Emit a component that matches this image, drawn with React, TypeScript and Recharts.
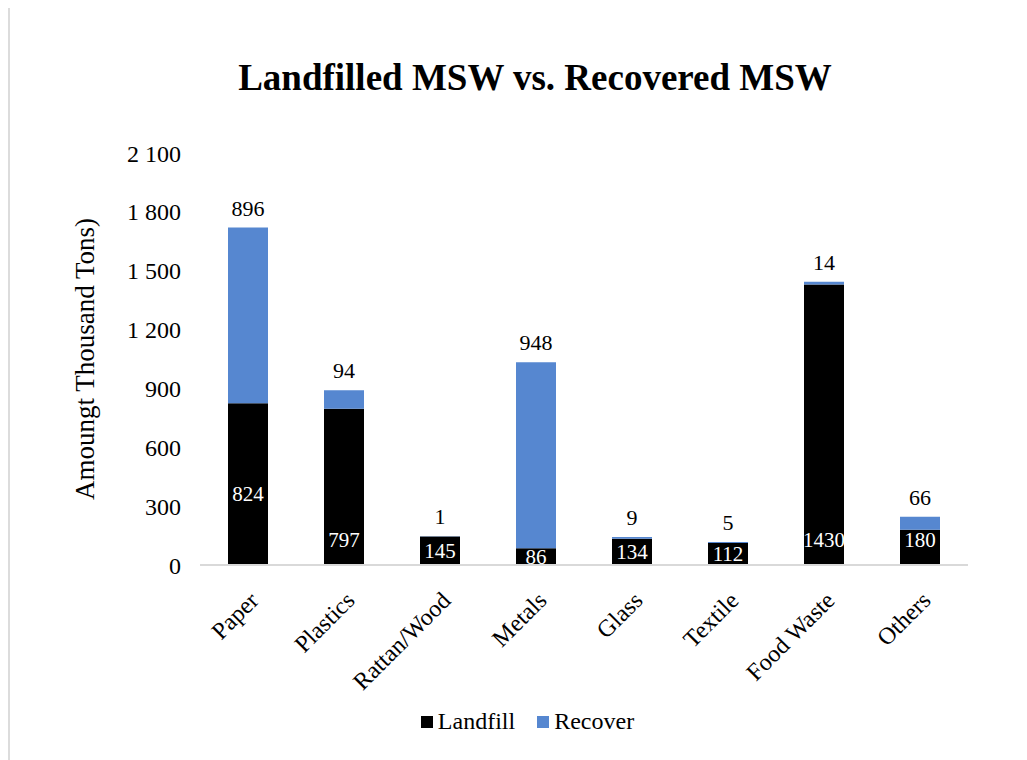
import React from "react";
import { Bar, BarChart, LabelList, Legend, XAxis, YAxis } from "recharts";

const categories = [
  "Paper",
  "Plastics",
  "Rattan/Wood",
  "Metals",
  "Glass",
  "Textile",
  "Food Waste",
  "Others",
];
const landfill = [824, 797, 145, 86, 134, 112, 1430, 180];
const recover = [896, 94, 1, 948, 9, 5, 14, 66];
const yTicks = [0, 300, 600, 900, 1200, 1500, 1800, 2100];

const data = categories.map((name, i) => ({
  name,
  landfill: landfill[i],
  recover: recover[i],
}));

const FONT = "Liberation Serif, serif";
const BLUE = "#5687d0";

// thousands separated by a space, e.g. "1 800"
const fmt = (v: number) => String(v).replace(/\B(?=(\d{3})+(?!\d))/g, " ");

const XTick = ({ x, y, payload }: any) => (
  <g transform={`translate(${x + 12},${y + 29})`}>
    <text
      transform="rotate(-45)"
      textAnchor="end"
      fontSize={24}
      fontFamily={FONT}
      fill="#000"
    >
      {payload.value}
    </text>
  </g>
);

// landfill value inside the black segment: near the base for tall bars,
// mid-bar for short ones and for Paper
const LandfillLabel = (props: any) => {
  const { x, y, width, height, value, index } = props;
  const bottom = y + height;
  let cy = height > 30 ? bottom - 25 : y + height / 2;
  if (categories[index] === "Paper") cy = y + height / 2 + 10;
  return (
    <text
      x={x + width / 2}
      y={cy + 7}
      textAnchor="middle"
      fontSize={21}
      fontFamily={FONT}
      fill="#fff"
    >
      {value}
    </text>
  );
};

const series = [
  { name: "Landfill", color: "#000" },
  { name: "Recover", color: BLUE },
];

const LegendContent = () => (
  <div
    style={{
      display: "flex",
      justifyContent: "center",
      alignItems: "center",
      gap: 22,
      fontFamily: FONT,
      fontSize: 24,
      color: "#000",
    }}
  >
    {series.map((s) => (
      <div key={s.name} style={{ display: "flex", alignItems: "center" }}>
        <span
          style={{
            display: "inline-block",
            width: 12,
            height: 12,
            background: s.color,
            marginRight: 5,
          }}
        />
        <span>{s.name}</span>
      </div>
    ))}
  </div>
);

export default function App() {
  return (
    <div
      style={{
        position: "relative",
        marginTop: -2,
        width: 1017,
        height: 752,
        borderLeft: "2px solid #dcdcdc",
        borderTop: "2px solid #dcdcdc",
        fontFamily: FONT,
      }}
    >
      <div
        style={{
          position: "absolute",
          left: 0,
          top: 48,
          width: 1050,
          textAlign: "center",
          fontSize: 37,
          fontWeight: "bold",
          color: "#000",
        }}
      >
        Landfilled MSW vs. Recovered MSW
      </div>
      <BarChart
        width={1017}
        height={752}
        data={data}
        margin={{ top: 145, right: 59, bottom: 0, left: 0 }}
        barSize={40}
        style={{ fontFamily: FONT }}
      >
        <XAxis
          dataKey="name"
          tick={<XTick />}
          tickLine={false}
          axisLine={{ stroke: "#d9d9d9", strokeWidth: 2 }}
          interval={0}
          height={168}
        />
        <YAxis
          width={190}
          domain={[0, 2100]}
          ticks={yTicks}
          tickFormatter={fmt}
          axisLine={false}
          tickLine={false}
          tickSize={0}
          tickMargin={19}
          tick={{ fontSize: 24, fontFamily: FONT, fill: "#000" }}
          label={{
            value: "Amoungt Thousand Tons)",
            angle: -90,
            position: "insideLeft",
            offset: 74,
            style: {
              textAnchor: "middle",
              fontSize: 27,
              fontFamily: FONT,
              fill: "#000",
            },
          }}
        />
        <Legend
          content={<LegendContent />}
          wrapperStyle={{ left: 0, width: 1035, top: 700 }}
        />
        <Bar
          dataKey="landfill"
          name="Landfill"
          stackId="a"
          fill="#000"
          isAnimationActive={false}
        >
          <LabelList dataKey="landfill" content={<LandfillLabel />} />
        </Bar>
        <Bar
          dataKey="recover"
          name="Recover"
          stackId="a"
          fill={BLUE}
          isAnimationActive={false}
        >
          <LabelList
            dataKey="recover"
            position="top"
            offset={12}
            style={{ fontSize: 22, fontFamily: FONT, fill: "#000" }}
          />
        </Bar>
      </BarChart>
    </div>
  );
}
